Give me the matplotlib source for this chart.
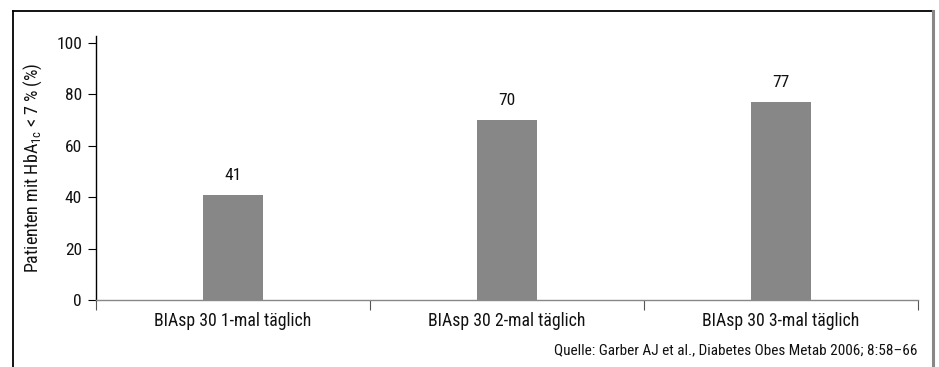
import matplotlib
matplotlib.use("Agg")
import matplotlib.pyplot as plt
from matplotlib.lines import Line2D

categories = ["BIAsp 30 1-mal täglich", "BIAsp 30 2-mal täglich", "BIAsp 30 3-mal täglich"]
values = [41, 70, 77]
yticks = [0, 20, 40, 60, 80, 100]
source = "Quelle: Garber AJ et al., Diabetes Obes Metab 2006; 8:58–66"

plt.rcParams['font.family'] = ['Roboto Condensed', 'DejaVu Sans']
plt.rcParams['mathtext.fontset'] = 'custom'
plt.rcParams['mathtext.rm'] = 'Roboto Condensed'

W, H = 939, 367
fig = plt.figure(figsize=(W / 100, H / 100), dpi=100)

# frame around the chart (open at the bottom)
def px(x, y):
    return x / W, 1 - y / H

fig.add_artist(Line2D(*zip(px(12.5, 10.5), px(12.5, 367)), color="black", lw=1.3))
fig.add_artist(Line2D(*zip(px(12.5, 10.5), px(933, 10.5)), color="black", lw=1.3))
fig.add_artist(Line2D(*zip(px(933, 10.5), px(933, 367)), color="#888888", lw=2.2))

ax = fig.add_axes([96 / W, 1 - 300 / H, (918 - 96) / W, (300 - 36) / H])
x = range(len(values))
ax.bar(x, values, width=0.22, color="#878787")
ax.set_xlim(-0.5, 2.5)
ax.set_ylim(0, 102.7)

for xi, v in zip(x, values):
    ax.annotate(str(v), (xi, v), xytext=(0, 8.5), textcoords="offset points",
                ha="center", va="bottom", fontsize=12.5, color="#111111")

ax.spines['top'].set_visible(False)
ax.spines['right'].set_visible(False)
ax.spines['bottom'].set_color("#888888")
ax.spines['left'].set_color("black")
ax.spines['bottom'].set_linewidth(1.0)
ax.spines['left'].set_linewidth(1.0)

ax.set_yticks(yticks)
ax.set_yticklabels([str(t) for t in yticks], fontsize=12.5, color="#111111")
ax.tick_params(axis='y', length=6, width=0.8, pad=4)

ax.set_xticks([-0.5, 0.5, 1.5, 2.5])
ax.set_xticklabels([])
ax.tick_params(axis='x', length=7, width=0.8, color="#555555")
for xi, c in zip(x, categories):
    ax.text(xi, -0.08, c, transform=ax.get_xaxis_transform(), ha="center", va="center",
            fontsize=12.8, color="#111111")

ax.set_ylabel("Patienten mit HbA$_{\\mathregular{1c}}$ < 7 % (%)", fontsize=13, color="#111111")
ax.yaxis.set_label_coords(-0.063, 0.5)

fig.text(918 / W, 1 - 350 / H, source, ha="right", va="center", fontsize=11, color="#111111")

fig.savefig("out.png", dpi=100)
